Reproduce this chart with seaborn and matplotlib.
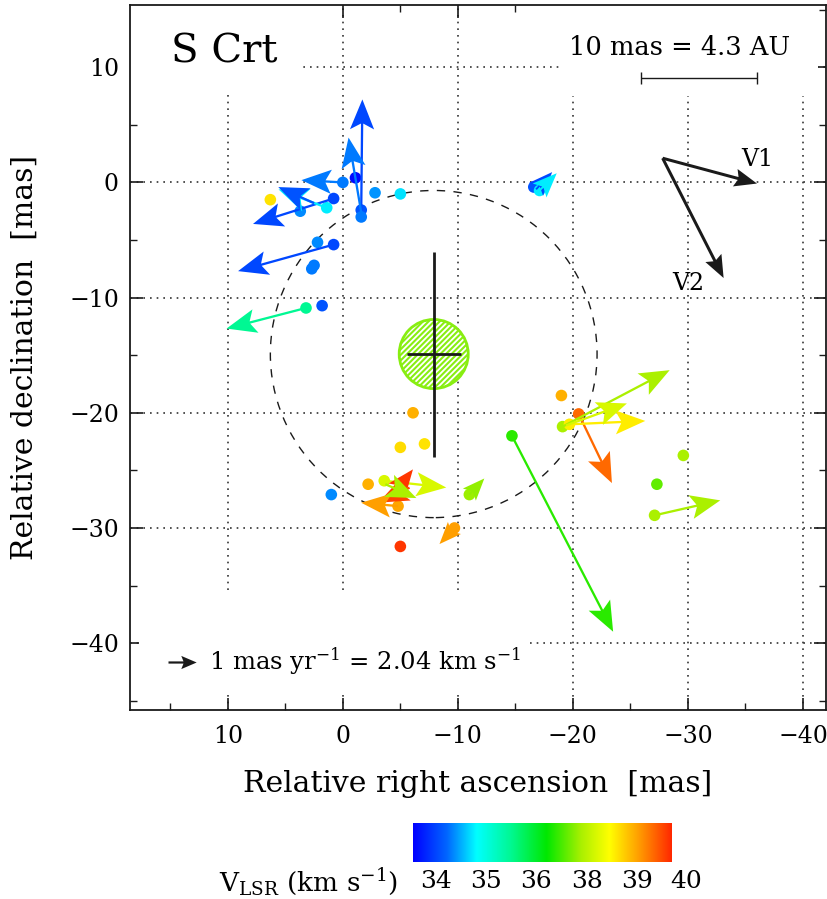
import numpy as np
import pandas as pd
import matplotlib
matplotlib.use("Agg")
import matplotlib.pyplot as plt
from matplotlib.colors import LinearSegmentedColormap, Normalize
from matplotlib.patches import Circle, Rectangle
import seaborn as sns

# maser spots: relative RA / Dec offsets (mas) and LSR velocity (km/s)
spot_x = [6.3, -1.1, 0.0, -2.8, -5.0, 0.8, 1.4, 3.7, -1.6, -1.6, 2.2, 0.8,
          2.5, 2.7, 1.8, 3.2, -16.6, -17.1,
          -6.1, -5.0, -7.1, -2.2, -3.6, -4.8, 1.0, -11.0, -9.7, -5.0,
          -19.0, -20.5, -19.1, -19.7, -14.7, -29.6, -27.3, -27.1]
spot_y = [-1.5, 0.4, 0.0, -0.9, -1.0, -1.4, -2.2, -2.5, -2.4, -3.0, -5.2, -5.4,
          -7.2, -7.5, -10.7, -10.9, -0.4, -0.7,
          -20.0, -23.0, -22.7, -26.2, -25.9, -28.1, -27.1, -27.1, -30.0, -31.6,
          -18.5, -20.1, -21.2, -21.0, -22.0, -23.7, -26.2, -28.9]
spot_v = [38.6, 33.6, 34.3, 34.4, 34.7, 34.0, 34.75, 34.35, 34.1, 34.3, 34.35, 34.0,
          34.3, 34.3, 34.1, 35.5, 34.1, 34.75,
          38.9, 38.65, 38.6, 38.9, 38.2, 38.95, 34.35, 37.7, 39.0, 39.6,
          38.9, 39.3, 37.8, 38.55, 36.8, 37.8, 37.2, 37.8]

# proper motions (mas/yr) of spots that have arrows
pm_x0 = [0.0, 0.8, 1.4, 2.5, -1.6, -1.6, 0.8, 3.2, -16.8, -17.1,
         -3.6, -4.7, -5.8, -4.8, -3.7, -11.0, -9.7,
         -20.5, -19.1, -19.7, -19.4, -14.7, -27.1]
pm_y0 = [0.0, -1.4, -2.2, -1.8, -2.4, -2.6, -5.4, -10.9, -0.6, -0.7,
         -25.9, -26.7, -26.5, -28.1, -26.2, -27.1, -30.0,
         -20.1, -21.2, -21.0, -21.1, -22.0, -28.9]
pm_ra = [1.47, 2.86, 1.71, 1.27, -0.04, 0.45, 3.39, 2.82, -0.57, -0.61,
         -2.20, -0.57, 1.10, 1.31, -1.10, -0.53, 0.53,
         -1.18, -3.80, -2.69, -2.16, -3.59, -2.33]
pm_dec = [0.08, -0.90, 0.65, 0.57, 3.92, 2.65, -0.94, -0.73, 0.61, 0.61,
          -0.24, 0.73, -0.53, 0.12, -0.49, 0.57, -0.57,
          -2.45, 2.00, 0.12, 0.78, -6.94, 0.53]
pm_v = [34.3, 34.0, 34.75, 34.1, 34.0, 34.3, 34.0, 35.5, 34.0, 34.75,
        38.2, 39.6, 39.5, 39.0, 37.8, 37.6, 39.0,
        39.3, 37.8, 38.55, 38.2, 36.8, 37.8]
PM_SCALE = 2.45  # plotted mas per 1 mas/yr

# stellar position and its uncertainty, ring radius
star_x, star_y = -7.9, -14.9
star_ex, star_ey = 2.35, 8.9
star_r = 3.0
ring_r = 14.2

# velocity vectors V1, V2 (mas on the plot)
vec_x0, vec_y0 = -27.8, 2.1
vec_dx = [-8.2, -5.3]
vec_dy = [-2.2, -10.4]
vec_names = ["V1", "V2"]

cbar_ticks = [34, 35, 36, 38, 39, 40]
cbar_pos = [0.09, 0.28, 0.47, 0.67, 0.87, 1.06]

cmap = LinearSegmentedColormap.from_list("vlsr", [
    (0.0, "#0000ff"), (0.13, "#0066ff"), (0.245, "#00ffff"), (0.38, "#00f890"),
    (0.516, "#00e800"), (0.65, "#aaf000"), (0.76, "#ffff00"), (0.87, "#ffa000"),
    (1.0, "#ff2800")])


def vel_to_frac(v):
    v = np.asarray(v, dtype=float)
    f = np.interp(v, cbar_ticks, cbar_pos)
    low = cbar_pos[0] + (v - cbar_ticks[0]) * (cbar_pos[1] - cbar_pos[0])
    f = np.where(v < cbar_ticks[0], low, f)
    return np.clip(f, 0, 1)


sns.set_theme(style="ticks")
plt.rcParams["font.family"] = ["DejaVu Serif"]
plt.rcParams["mathtext.fontset"] = "dejavuserif"
plt.rcParams["hatch.linewidth"] = 1.5
plt.rcParams["axes.unicode_minus"] = True
plt.rcParams["text.color"] = "black"
plt.rcParams["axes.labelcolor"] = "black"
plt.rcParams["xtick.color"] = "black"
plt.rcParams["ytick.color"] = "black"

fig = plt.figure(figsize=(8.28, 8.99), dpi=100)
ax = fig.add_axes([130 / 828, 1 - 710 / 899, 696 / 828, 705 / 899])

df = pd.DataFrame({"x": spot_x, "y": spot_y, "frac": vel_to_frac(spot_v)})
sns.scatterplot(data=df, x="x", y="y", hue="frac", palette=cmap, hue_norm=(0, 1),
                s=70, edgecolor="none", legend=False, ax=ax, zorder=3)

ax.quiver(pm_x0, pm_y0, pm_ra, pm_dec, vel_to_frac(pm_v), cmap=cmap,
          norm=Normalize(0, 1), angles="xy", scale_units="xy", scale=1 / PM_SCALE,
          units="dots", width=2.3, headwidth=10.5, headlength=13,
          headaxislength=10.5, zorder=4)

# ring, star and its error cross
ax.add_patch(Circle((star_x, star_y), ring_r, fill=False, ls=(0, (6, 6)),
                    lw=1.0, color="k", zorder=2))
ax.add_patch(Circle((star_x, star_y), star_r, facecolor="white",
                    edgecolor="#88ee11", hatch="//////", lw=2, zorder=2.5))
ax.errorbar(star_x, star_y, xerr=star_ex, yerr=star_ey, fmt="none",
            ecolor="k", elinewidth=2, capsize=0, zorder=5)

# V1 / V2
ax.quiver([vec_x0] * 2, [vec_y0] * 2, vec_dx, vec_dy, color="k", angles="xy",
          scale_units="xy", scale=1, units="dots", width=3, headwidth=6,
          headlength=7.5, headaxislength=6.5, zorder=5)
ax.text(-36.0, 2.0, vec_names[0], fontsize=17, ha="center", va="center")
ax.text(-30.0, -8.8, vec_names[1], fontsize=17, ha="center", va="center")

# white boxes behind the annotations
for (bx0, by0, bx1, by1) in [(18.5, 8.0, 3.7, 15.4), (-18.9, 7.5, -41.3, 15.4),
                             (17.7, -44.4, -16.3, -35.8)]:
    ax.add_patch(Rectangle((bx1, by0), bx0 - bx1, by1 - by0, facecolor="white",
                           edgecolor="none", zorder=1.8))

ax.text(10.3, 11.3, "S Crt", fontsize=29, ha="center", va="center")
ax.text(-29.3, 11.7, "10 mas = 4.3 AU", fontsize=18.5, ha="center", va="center")
ax.errorbar(-30.95, 9.1, xerr=5.05, fmt="none", ecolor="k", elinewidth=1,
            capsize=4, capthick=1)

# proper-motion scale
ax.quiver([15.2], [-41.6], [-1.0], [0.0], color="k", angles="xy",
          scale_units="xy", scale=1 / PM_SCALE, units="dots", width=2.2,
          headwidth=6, headlength=7, headaxislength=6, zorder=5)
ax.text(11.6, -41.6, r"1 mas yr$^{-1}$ = 2.04 km s$^{-1}$", fontsize=17.5,
        ha="left", va="center")

ax.set_xlim(18.5, -42)
ax.set_ylim(-45.8, 15.4)
ax.set_xticks([10, 0, -10, -20, -30, -40])
ax.set_yticks([10, 0, -10, -20, -30, -40])
ax.set_xticks(np.arange(15, -45, -5), minor=True)
ax.set_yticks(np.arange(15, -46, -5), minor=True)
ax.tick_params(which="both", direction="in", top=True, right=True, labelsize=17,
               color="k")
ax.tick_params(which="major", length=9, width=1.2, pad=8)
ax.tick_params(axis="x", which="major", pad=11)
ax.tick_params(which="minor", length=5, width=1.0)
ax.grid(True, which="major", ls=(0, (1, 3)), color="0.2", lw=1.2)
for s in ax.spines.values():
    s.set_color("k")
    s.set_linewidth(1.3)
ax.set_xlabel("Relative right ascension  [mas]", fontsize=21.5, labelpad=16)
ax.set_ylabel("Relative declination  [mas]", fontsize=21.5, labelpad=22)

# colour bar
cax = fig.add_axes([413 / 828, 1 - 862 / 899, 258 / 828, 39 / 899])
cax.imshow(np.linspace(0, 1, 256)[None, :], aspect="auto", cmap=cmap)
cax.axis("off")
for t, px in zip(cbar_ticks, [436, 486, 536, 587, 637, 686]):
    fig.text(px / 828, 1 - 882 / 899, str(t), fontsize=18, ha="center", va="center")
fig.text(398 / 828, 1 - 882 / 899, r"V$_{\mathregular{LSR}}$ (km s$^{-1}$)",
         fontsize=19, ha="right", va="center")

fig.savefig("out.png", dpi=100)
